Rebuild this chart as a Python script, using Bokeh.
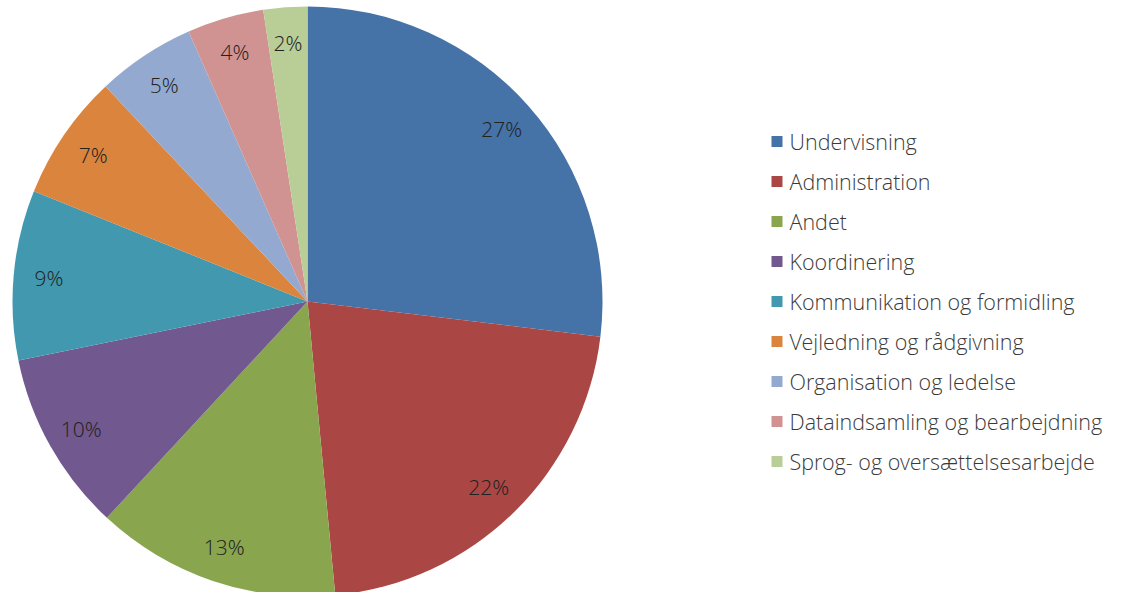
import numpy as np
from bokeh.plotting import figure
from bokeh.models import ColumnDataSource, Range1d
from bokeh.core.properties import value
from bokeh.embed import file_html
from bokeh.resources import INLINE

categories = ["Undervisning", "Administration", "Andet", "Koordinering",
              "Kommunikation og formidling", "Vejledning og rådgivning",
              "Organisation og ledelse", "Dataindsamling og bearbejdning",
              "Sprog- og oversættelsesarbejde"]
values = [26.9, 21.6, 13.4, 9.9, 9.3, 6.9, 5.4, 4.2, 2.4]
colors = ["#4572A7", "#AA4643", "#89A54E", "#71588F", "#4198AF",
          "#DB843D", "#93A9CF", "#D19392", "#B9CD96"]

W, H = 1125, 592
FONT = "'Open Sans Light', 'Open Sans'"

p = figure(width=W, height=H, output_backend="svg", toolbar_location=None,
           x_range=Range1d(0, W), y_range=Range1d(0, H), min_border=0)
p.axis.visible = False
p.grid.visible = False
p.outline_line_color = None

vals = np.array(values, dtype=float)
frac = vals / vals.sum()
cum = np.concatenate([[0.0], np.cumsum(frac)])
start = np.pi / 2 - cum[:-1] * 2 * np.pi
end = np.pi / 2 - cum[1:] * 2 * np.pi
mid = (start + end) / 2

cx, cy, R = 307.0, 291.0, 295.0
src = ColumnDataSource(dict(start=start, end=end, color=colors))
p.wedge(x=cx, y=cy, radius=R, start_angle="start", end_angle="end",
        direction="clock", fill_color="color", line_color=None, source=src)

lr = 0.88 * R
lab = ColumnDataSource(dict(x=cx + lr * np.cos(mid), y=cy + lr * np.sin(mid),
                            t=[f"{v:.0f}%" for v in values]))
p.text(x="x", y="y", text="t", source=lab, text_align="center",
       text_baseline="middle", text_font=value(FONT), text_font_size="21px",
       text_color="#222222")

# legend
n = len(categories)
ly = np.array([H - (141 + 40 * i) for i in range(n)], dtype=float)
leg = ColumnDataSource(dict(x=[776.5] * n, y=ly, color=colors, t=categories,
                            tx=[789] * n))
p.rect(x="x", y="y", width=11, height=11, fill_color="color", line_color=None,
       source=leg)
p.text(x="tx", y="y", text="t", source=leg, text_align="left",
       text_baseline="middle", text_font=value(FONT), text_font_size="21.5px",
       text_color="#3a3a3a")

open("out.html", "w").write(file_html(p, INLINE))
